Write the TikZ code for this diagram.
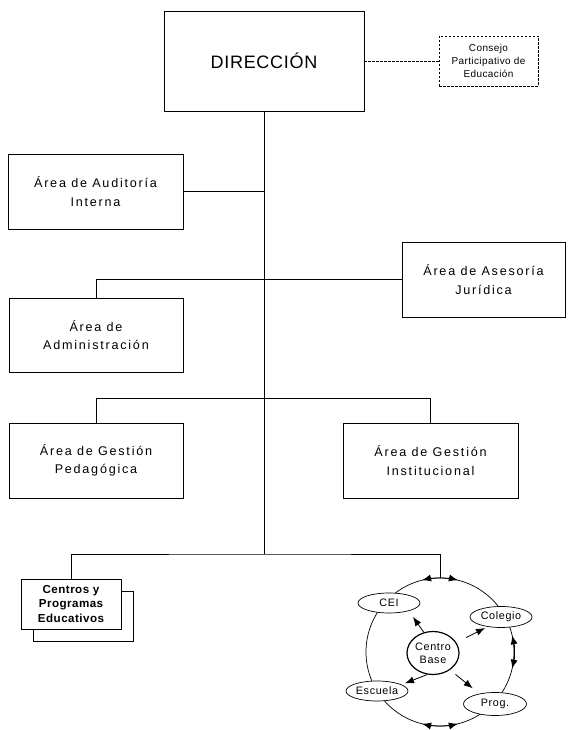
\documentclass[tikz,border=0pt]{standalone}
\usepackage{fontspec}
\setmainfont{Liberation Sans}
\newfontfamily\farea[LetterSpace=14]{Liberation Sans}
\newfontfamily\fdir[LetterSpace=4]{Liberation Sans}
\newfontfamily\fcons[LetterSpace=4]{Liberation Sans}
\newfontfamily\fcen[LetterSpace=4]{Liberation Sans}
\newfontfamily\fell[LetterSpace=6]{Liberation Sans}
\usetikzlibrary{shapes.geometric,arrows.meta,shadows}
\begin{document}
\begin{tikzpicture}[x=1pt,y=1pt,
  box/.style={draw,line width=0.9pt,fill=white,rectangle,align=center,inner sep=0pt,
    font=\farea\fontsize{12.6}{18.3}\selectfont},
  conn/.style={line width=0.7pt},
  ell/.style={draw,ellipse,line width=0.7pt,fill=white,inner sep=0pt,align=center,
    font=\fell\fontsize{10.8}{13}\selectfont},
  tipa/.tip={Latex[length=9pt,width=7pt]},
  arr/.style={-tipa,line width=0.8pt}]
\useasboundingbox (0,0) rectangle (570,730);

% boxes
\node[box,minimum width=200pt,minimum height=100pt,font=\fdir\fontsize{18}{22}\selectfont] (dir) at (264,669) {DIRECCIÓN};
\node[box,dash pattern=on 2.5pt off 1.5pt,line width=0.7pt,minimum width=99pt,minimum height=50pt,
  font=\fcons\fontsize{10}{13.3}\selectfont] (cons) at (488.5,669) {Consejo\\Participativo de\\Educación};
\node[box,minimum width=175pt,minimum height=75pt] (aud) at (95.5,538.5) {Área de Auditoría\\Interna};
\node[box,minimum width=163pt,minimum height=75pt] (ases) at (483.5,450.5) {Área de Asesoría\\Jurídica};
\node[box,minimum width=174pt,minimum height=74pt] (adm) at (96,395) {Área de\\Administración};
\node[box,minimum width=174pt,minimum height=75pt] (ped) at (96,269.5) {Área de Gestión\\Pedagógica};
\node[box,minimum width=175pt,minimum height=75pt] (inst) at (430.5,269.5) {Área de Gestión\\Institucional};
\node[box,minimum width=100pt,minimum height=50pt,font=\fcen\bfseries\fontsize{11.6}{14.7}\selectfont,
  copy shadow={shadow xshift=12pt,shadow yshift=-12.5pt,fill=white,draw=black,line width=0.7pt}]
  (cen) at (71,126) {Centros y\\Programas\\Educativos};

% coordinates
\coordinate (trunkend) at (264,176);
\coordinate (b2) at (264,331.5);
\coordinate (cc) at (440,78);
\coordinate (ctop) at (440,152);
\coordinate (cbot) at (440,4);

% connectors
\draw[conn] (dir.south) -- (trunkend);
\draw[conn,dash pattern=on 2.5pt off 1.5pt] (dir.east) -- (cons.west);
\draw[conn] (aud.east) -- (aud.east -| dir.south);
\draw[conn] (adm.north) |- (ases.west);
\draw[conn] (ped.north) |- (b2) -| (inst.north);
\draw[conn] (cen.north) |- (trunkend) -| (ctop);

% circle
\draw[conn] (cc) circle[radius=74];
\draw[arr] (ctop) arc[start angle=90,end angle=104,radius=74];
\draw[arr] (ctop) arc[start angle=90,end angle=76,radius=74];
\draw[arr] (cbot) arc[start angle=270,end angle=256,radius=74];
\draw[arr] (cbot) arc[start angle=270,end angle=284,radius=74];
\draw[tipa-tipa,line width=1pt]
  ([shift={(-13:74)}]cc) arc[start angle=-13,end angle=13,radius=74];

% ellipses
\node[ell,minimum width=62pt,minimum height=20pt] (cei) at (389,127) {CEI};
\node[ell,minimum width=62pt,minimum height=21pt] (col) at (501,113) {Colegio};
\node[ell,minimum width=52pt,minimum height=43pt,line width=1.2pt] (cb) at (433,77) {Centro\\Base};
\node[ell,minimum width=62pt,minimum height=20pt] (esc) at (377,39) {Escuela};
\node[ell,minimum width=63pt,minimum height=23pt] (prog) at (495,26) {Prog.};

\coordinate (t1) at (413,113);
\coordinate (t2) at (485,102);
\coordinate (t3) at (405,46.7);
\coordinate (t4) at (472.7,41.7);
\draw[arr] (cb.114) -- (t1);
\draw[arr,shorten <=11pt] (cb.24) -- (t2);
\draw[arr] (cb.255) -- (t3);
\draw[arr,shorten <=7pt] (cb.-45) -- (t4);
\end{tikzpicture}
\end{document}
